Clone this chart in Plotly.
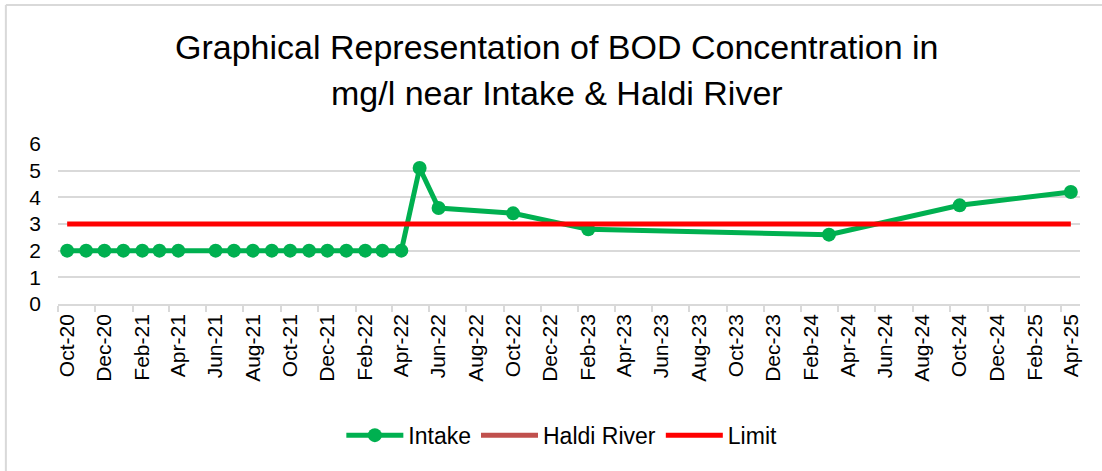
import plotly.graph_objects as go

# BOD concentration (mg/l) monitoring data
intake_months = ["2020-10", "2020-11", "2020-12", "2021-01", "2021-02", "2021-03", "2021-04",
                 "2021-06", "2021-07", "2021-08", "2021-09", "2021-10", "2021-11", "2021-12",
                 "2022-01", "2022-02", "2022-03", "2022-04",
                 "2022-05", "2022-06", "2022-10", "2023-02", "2024-03", "2024-10", "2025-04"]
intake_bod = [2, 2, 2, 2, 2, 2, 2,
              2, 2, 2, 2, 2, 2, 2,
              2, 2, 2, 2,
              5.1, 3.6, 3.4, 2.8, 2.6, 3.7, 4.2]

haldi_months = []
haldi_bod = []

limit_months = ["2020-10", "2025-04"]
limit_bod = [3, 3]

title_lines = ["Graphical Representation of BOD Concentration in",
               "mg/l near Intake & Haldi River"]

FONT = "Liberation Sans, Arial, sans-serif"
GRID = "#D9D9D9"

fig = go.Figure()

fig.add_trace(go.Scatter(x=intake_months, y=intake_bod, name="Intake", mode="lines+markers",
                         line=dict(color="#00B050", width=5),
                         marker=dict(color="#00B050", size=14)))
fig.add_trace(go.Scatter(x=haldi_months or [None], y=haldi_bod or [None], name="Haldi River",
                         mode="lines", line=dict(color="#C0504D", width=5)))
fig.add_trace(go.Scatter(x=limit_months, y=limit_bod, name="Limit", mode="lines",
                         line=dict(color="#FF0000", width=5)))

# two-line title with Excel-like line spacing
for txt, ypos in zip(title_lines, [1.606, 1.319]):
    fig.add_annotation(text=txt, xref="paper", yref="paper", x=0.488, y=ypos,
                       xanchor="center", yanchor="middle", showarrow=False,
                       font=dict(family=FONT, size=34, color="#000000"))

# chart-area border, only the top and left edges are visible in the crop
fig.add_shape(type="line", xref="paper", yref="paper", x0=-0.051, x1=1.03, y0=1.869, y1=1.869,
              line=dict(color=GRID, width=2), layer="below")
fig.add_shape(type="line", xref="paper", yref="paper", x0=-0.051, x1=-0.051, y0=-1.2, y1=1.869,
              line=dict(color=GRID, width=2), layer="below")

fig.update_xaxes(type="date", range=["2020-09-16", "2025-04-16"],
                 tick0="2020-10-01", dtick="M2", tickformat="%b-%y", tickangle=-90,
                 ticks="", showgrid=False, showline=True, linecolor=GRID, linewidth=1.5,
                 tickfont=dict(family=FONT, size=21, color="#000000"),
                 minor=dict(ticks="outside", tick0="2020-09-16", dtick="M2",
                            ticklen=6, tickcolor=GRID, tickwidth=1.5, showgrid=False),
                 zeroline=False)
fig.update_yaxes(range=[0, 6], dtick=1, showgrid=True, gridcolor=GRID, gridwidth=1.5,
                 zeroline=False, ticks="", ticklabelstandoff=16,
                 tickfont=dict(family=FONT, size=21, color="#000000"))

fig.update_layout(
    width=1102, height=471,
    margin=dict(l=58, r=22, t=144, b=167),
    plot_bgcolor="white", paper_bgcolor="white",
    font=dict(family=FONT, color="#000000"),
    showlegend=True,
    legend=dict(orientation="h", x=0.493, xanchor="center", y=-0.82, yanchor="middle",
                font=dict(family=FONT, size=23, color="#000000"),
                itemwidth=57, tracegroupgap=0),
)

fig.write_html("out.html", config={"displayModeBar": False},
               post_script="document.body.style.margin='0';")
